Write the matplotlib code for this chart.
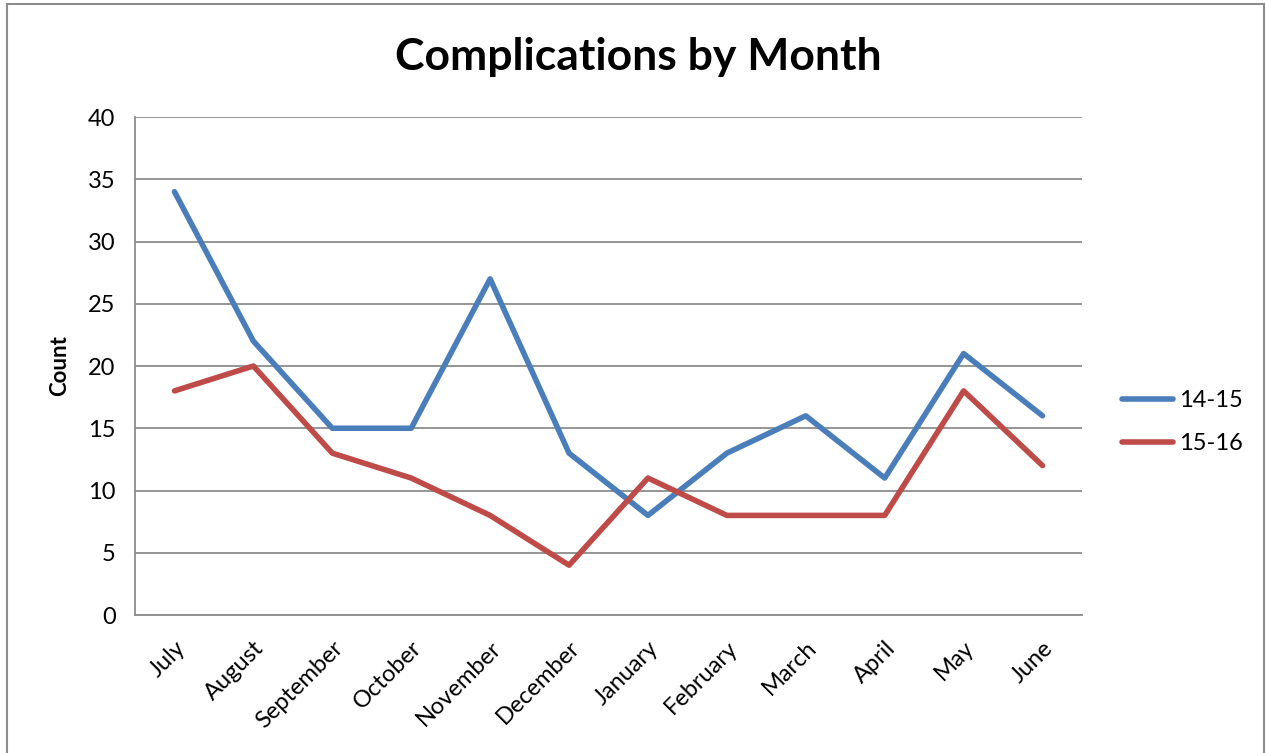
import matplotlib
matplotlib.use("Agg")
import matplotlib.pyplot as plt
from matplotlib.patches import Rectangle

months = ["July", "August", "September", "October", "November", "December",
          "January", "February", "March", "April", "May", "June"]
s1415 = [34, 22, 15, 15, 27, 13, 8, 13, 16, 11, 21, 16]
s1516 = [18, 20, 13, 11, 8, 4, 11, 8, 8, 8, 18, 12]
yticks = [0, 5, 10, 15, 20, 25, 30, 35, 40]

plt.rcParams['font.family'] = ['Lato', 'DejaVu Sans']

W, H = 1266, 753
fig = plt.figure(figsize=(W / 100, H / 100), dpi=100)
ax = fig.add_axes([135 / W, 1 - 615 / H, (1082 - 135) / W, (615 - 117) / H])

x = list(range(len(months)))
ax.plot(x, s1415, color="#4a7ebb", lw=4, solid_capstyle="round", label="14-15")
ax.plot(x, s1516, color="#be4b48", lw=4, solid_capstyle="round", label="15-16")

ax.set_xlim(-0.5, len(months) - 0.5)
ax.set_ylim(0, 40)
ax.set_yticks(yticks)
ax.set_yticklabels([str(v) for v in yticks], fontsize=17)
ax.set_xticks(x)
ax.set_xticklabels(months, rotation=45, ha="right", va="top", fontsize=17,
                   rotation_mode="anchor")
ax.tick_params(axis="y", length=0, pad=14)
ax.tick_params(axis="x", length=0, pad=16)
ax.grid(axis="y", color="#8c8c8c", lw=1.3)
ax.set_axisbelow(True)
for side in ["top", "right"]:
    ax.spines[side].set_visible(False)
for side in ["left", "bottom"]:
    ax.spines[side].set_color("#8c8c8c")
    ax.spines[side].set_linewidth(1.3)

ax.set_ylabel("Count", fontsize=16, fontweight="bold", labelpad=13)
fig.text(638 / W, 1 - 57 / H, "Complications by Month", fontsize=32,
         fontweight="bold", ha="center", va="center")

leg = ax.legend(loc="center left", bbox_to_anchor=(1.02, (615 - 422) / 498),
                frameon=False, fontsize=17, handlelength=2.15,
                handletextpad=0.25, labelspacing=0.95)

fig.patches.append(Rectangle((7 / W, -0.01), (W - 9) / W, 1 - 4 / H + 0.01,
                             transform=fig.transFigure, fill=False,
                             edgecolor="#8c8c8c", lw=1.5))

fig.savefig("out.png", dpi=100)
